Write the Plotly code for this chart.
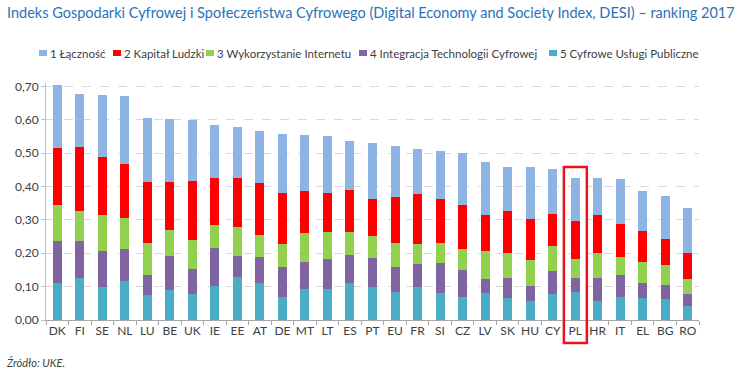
import plotly.graph_objects as go

countries = ["DK", "FI", "SE", "NL", "LU", "BE", "UK", "IE", "EE", "AT",
             "DE", "MT", "LT", "ES", "PT", "EU", "FR", "SI", "CZ", "LV",
             "SK", "HU", "CY", "PL", "HR", "IT", "EL", "BG", "RO"]

uslugi_publiczne = [0.112, 0.126, 0.100, 0.118, 0.075, 0.090, 0.077, 0.102, 0.128, 0.110,
                    0.070, 0.094, 0.094, 0.110, 0.099, 0.085, 0.099, 0.080, 0.069, 0.080,
                    0.066, 0.056, 0.077, 0.083, 0.058, 0.069, 0.065, 0.062, 0.042]
integracja = [0.125, 0.110, 0.107, 0.096, 0.061, 0.102, 0.075, 0.114, 0.064, 0.080,
              0.088, 0.080, 0.089, 0.085, 0.087, 0.075, 0.070, 0.091, 0.082, 0.044,
              0.061, 0.046, 0.069, 0.042, 0.068, 0.067, 0.046, 0.043, 0.037]
wykorzystanie = [0.109, 0.092, 0.108, 0.092, 0.096, 0.077, 0.089, 0.070, 0.088, 0.065,
                 0.071, 0.087, 0.082, 0.069, 0.065, 0.071, 0.060, 0.061, 0.061, 0.082,
                 0.073, 0.078, 0.075, 0.059, 0.074, 0.053, 0.064, 0.061, 0.044]
kapital = [0.169, 0.190, 0.172, 0.161, 0.181, 0.143, 0.176, 0.140, 0.146, 0.155,
           0.152, 0.126, 0.115, 0.126, 0.112, 0.136, 0.147, 0.132, 0.133, 0.109,
           0.126, 0.122, 0.097, 0.112, 0.115, 0.098, 0.091, 0.076, 0.077]
lacznosc = [0.190, 0.160, 0.188, 0.204, 0.193, 0.191, 0.183, 0.159, 0.152, 0.157,
            0.176, 0.167, 0.172, 0.147, 0.166, 0.155, 0.136, 0.141, 0.155, 0.159,
            0.133, 0.157, 0.135, 0.130, 0.111, 0.134, 0.121, 0.130, 0.135]

series_names = ["1 Łączność", "2 Kapitał Ludzki", "3 Wykorzystanie Internetu",
                "4 Integracja Technologii Cyfrowej", "5 Cyfrowe Usługi Publiczne"]
series_colors = ["#8DB4E2", "#FF0000", "#92D050", "#8064A2", "#4BACC6"]
series_values = [lacznosc, kapital, wykorzystanie, integracja, uslugi_publiczne]

y_ticks = [0.0, 0.1, 0.2, 0.3, 0.4, 0.5, 0.6, 0.7]
highlight = "PL"

W, H = 745, 373
ML, MR, MT, MB = 46, 46, 83, 53
PW = W - ML - MR
PH = H - MT - MB


def px_x(px):
    return (px - ML) / PW


def px_y(py):
    return (H - MB - py) / PH


FONT = "Lato"
TXT = "#404040"

fig = go.Figure()
# stack bottom-to-top: 5, 4, 3, 2, 1
for name, color, vals in reversed(list(zip(series_names, series_colors, series_values))):
    fig.add_trace(go.Bar(x=countries, y=vals, name=name, marker_color=color,
                         marker_line_width=0, showlegend=False))

# compact legend like the reference
legend_sq_x = [39, 113, 206, 359, 549]
for sx, name, color in zip(legend_sq_x, series_names, series_colors):
    fig.add_shape(type="rect", xref="paper", yref="paper",
                  x0=px_x(sx), x1=px_x(sx + 8), y0=px_y(56), y1=px_y(50),
                  fillcolor=color, line_width=0)
    fig.add_annotation(xref="paper", yref="paper", x=px_x(sx + 9), y=px_y(53),
                       xanchor="left", yanchor="middle", showarrow=False,
                       text=name, font=dict(family=FONT, size=11.5, color=TXT))

# highlight box around PL
idx = countries.index(highlight)
fig.add_shape(type="rect", xref="x", yref="paper",
              x0=idx - 0.5, x1=idx + 0.52, y0=px_y(343), y1=px_y(167),
              line=dict(color="#E8141B", width=2.5), fillcolor="rgba(0,0,0,0)")

fig.add_annotation(xref="paper", yref="paper", x=px_x(4), y=px_y(362),
                   xanchor="left", yanchor="middle", showarrow=False,
                   text="<i>Źródło: UKE.</i>", font=dict(family=FONT, size=11, color=TXT))

fig.update_layout(
    width=W, height=H,
    margin=dict(l=ML, r=MR, t=MT, b=MB, autoexpand=False),
    barmode="stack", bargap=0.6,
    separators=", ",
    plot_bgcolor="white", paper_bgcolor="white",
    title=dict(text="Indeks Gospodarki Cyfrowej i Społeczeństwa Cyfrowego (Digital Economy and Society Index, DESI) – ranking 2017",
               xref="container", yref="container", x=7 / W, xanchor="left",
               y=1 - 13 / H, yanchor="middle",
               font=dict(family=FONT, size=14.5, color="#2A72B8")),
    showlegend=False,
)
fig.update_yaxes(range=[0, 0.71], tickvals=y_ticks, tickformat=".2f",
                 showgrid=True, gridcolor="#D9D9D9", griddash="dash", gridwidth=1,
                 showline=True, linecolor="#BFBFBF", linewidth=1,
                 ticks="outside", ticklen=4, tickcolor="#BFBFBF",
                 tickfont=dict(family=FONT, size=12, color=TXT), zeroline=False,
                 automargin=False)
fig.update_xaxes(showline=True, linecolor="#A6A6A6", linewidth=1, tickangle=0,
                 ticks="outside", ticklen=4, tickcolor="#A6A6A6", tickson="boundaries",
                 tickfont=dict(family=FONT, size=12, color=TXT), showgrid=False,
                 automargin=False)

fig.write_html("out.html", config={"displayModeBar": False},
               post_script="document.body.style.margin='0';")
